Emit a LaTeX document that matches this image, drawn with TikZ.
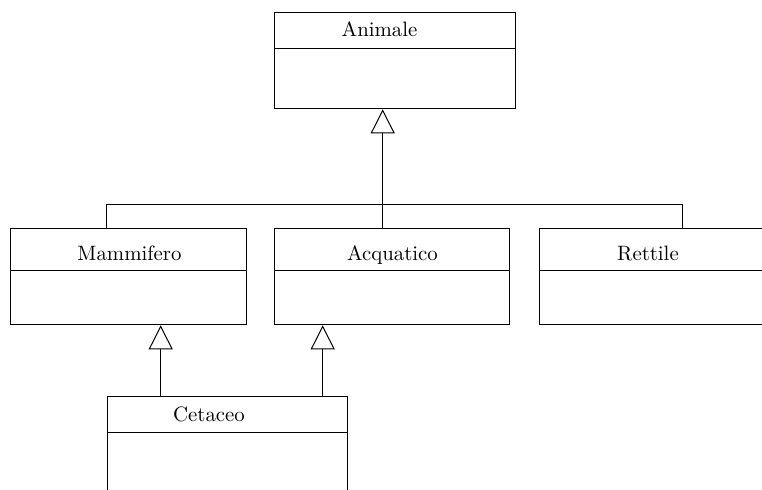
\documentclass[tikz,border=0pt]{standalone}
\usetikzlibrary{arrows.meta}
\begin{document}
\begin{tikzpicture}[x=0.5pt,y=-0.5pt,
  line width=0.5pt,
  classbox/.style={draw, rectangle, anchor=north west, inner sep=0pt, minimum height=48pt},
  classname/.style={anchor=base, inner sep=0pt, font=\fontsize{10.4}{12}\selectfont},
  inh/.style={-{Triangle[open,length=12pt,width=12pt]}}]
\useasboundingbox (0,0) rectangle (762,489);
\clip (0,0) rectangle (762,489);
% boxes
\node[classbox, minimum width=120.5pt] (anim) at (274.3,12.3) {};
\node[classbox, minimum width=117.8pt] (mam) at (10.3,228.3) {};
\node[classbox, minimum width=117.5pt] (acq) at (274.3,228.3) {};
\node[classbox, minimum width=117.5pt] (ret) at (538.7,228.3) {};
\node[classbox, minimum width=120.3pt, minimum height=60pt] (cet) at (106.5,396.3) {};
% dividers
\coordinate (danim) at (0,48.5);
\coordinate (dmid) at (0,270.8);
\coordinate (dcet) at (0,432.3);
\draw (anim.west |- danim) -- (anim.east |- danim);
\draw (mam.west |- dmid) -- (mam.east |- dmid);
\draw (acq.west |- dmid) -- (acq.east |- dmid);
\draw (ret.west |- dmid) -- (ret.east |- dmid);
\draw (cet.west |- dcet) -- (cet.east |- dcet);
% names
\node[classname] (tanim) at (379.5,36.7) {Animale};
\node[classname] (tmam) at (129.5,260) {Mammifero};
\node[classname] (tacq) at (392.5,260) {Acquatico};
\node[classname] (tret) at (648,260) {Rettile};
\node[classname] (tcet) at (209,421.7) {Cetaceo};
% connectors
\coordinate (jm) at (106.8,204);
\coordinate (ja) at (382.7,204);
\coordinate (jr) at (682.8,204);
\draw (mam.north -| jm) -- (jm) -- (jr) -- (ret.north -| jr);
\draw[inh] (acq.north -| ja) -- (anim.south -| ja);
\coordinate (cm) at (160.7,0);
\coordinate (ca) at (322.7,0);
\draw[inh] (cet.north -| cm) -- (mam.south -| cm);
\draw[inh] (cet.north -| ca) -- (acq.south -| ca);
\end{tikzpicture}
\end{document}
